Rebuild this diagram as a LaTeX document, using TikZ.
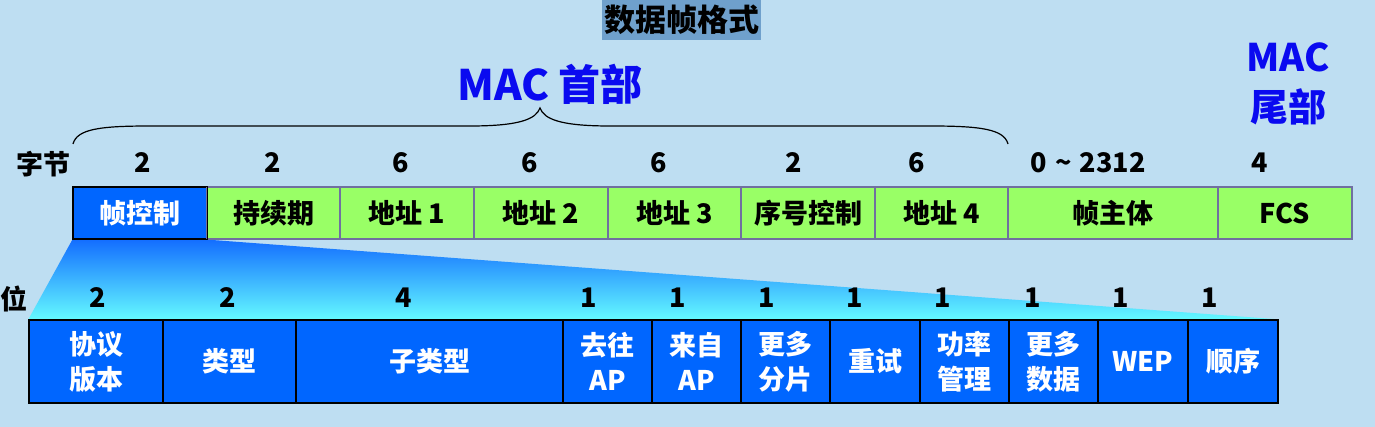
\documentclass[tikz,border=0pt]{standalone}
\usepackage{fontspec}
\setmainfont{Noto Sans CJK SC}
\usetikzlibrary{calc}
\definecolor{bgc}{RGB}{190,222,242}
\definecolor{titlebg}{RGB}{111,160,204}
\definecolor{gfill}{RGB}{153,255,102}
\definecolor{gedge}{RGB}{112,112,160}
\definecolor{bfill}{RGB}{0,102,255}
\definecolor{macblue}{RGB}{10,10,240}
\definecolor{shtop}{RGB}{20,110,255}
\definecolor{shmid}{RGB}{75,215,255}
\definecolor{shbot}{RGB}{100,250,255}
\pgfdeclarelayer{bg}
\pgfsetlayers{bg,main}
\tikzset{
  gbox/.style={draw=gedge, line width=1.3pt, fill=gfill, minimum height=52pt, inner sep=0pt, font=\fontsize{27}{30}\selectfont\bfseries, text=black},
  bbox/.style={draw=black, line width=1.3pt, fill=bfill, inner sep=0pt, text=white, align=center, font=\fontsize{27}{35}\selectfont\bfseries},
  num/.style={inner sep=0pt, font=\fontsize{27}{30}\selectfont\bfseries, text=black},
  mac/.style={inner sep=0pt, text=macblue, align=center, font=\bfseries},
}
\begin{document}
\begin{tikzpicture}[x=1pt,y=-1pt]
\begin{pgfonlayer}{bg}
\fill[bgc] (0,0) rectangle (1375,427);
\end{pgfonlayer}
\useasboundingbox (0,0) rectangle (1375,427);
% title
\node[fill=titlebg, minimum width=159pt, minimum height=40pt, inner sep=0pt, font=\fontsize{31}{32}\selectfont\bfseries] (title) at (681.5,20) {数据帧格式};
% MAC header labels
\node[mac, font=\fontsize{42}{44}\selectfont\bfseries] (hdr) at (550,84) {MAC 首部};
\node[mac, font=\fontsize{38}{50}\selectfont\bfseries] (trl) at (1288,84) {MAC\\尾部};
% byte row
\node[gbox, fill=bfill, draw=black, text=white, minimum width=134pt] (f1) at (140,213) {帧控制};
\node[gbox, minimum width=133pt] (f2) at (273.5,213) {持续期};
\node[gbox, minimum width=134pt] (f3) at (407,213) {地址 1};
\node[gbox, minimum width=134pt] (f4) at (541,213) {地址 2};
\node[gbox, minimum width=133pt] (f5) at (674.5,213) {地址 3};
\node[gbox, minimum width=134pt] (f6) at (808,213) {序号控制};
\node[gbox, minimum width=133pt] (f7) at (941.5,213) {地址 4};
\node[gbox, minimum width=210pt] (f8) at (1113,213) {帧主体};
\node[gbox, minimum width=134pt] (f9) at (1285,213) {FCS};
\draw[line width=1.3pt, draw=black] (f1.south west) rectangle (f1.north east);
% brace
\coordinate (bl) at (73,144);
\coordinate (br) at (1008,144);
\draw[line width=1.2pt] (bl) .. controls (77,129) and (100,126) .. (150,126) -- (470,126) .. controls (520,126) and (536,119) .. (540,108) .. controls (544,119) and (560,126) .. (610,126) -- (930,126) .. controls (980,126) and (1004,129) .. (br);
% byte numbers
\node[num] (zj) at (43.5,164) {字节};
\node[num] (n1) at (143,163) {2};
\node[num] (n2) at (273,163) {2};
\node[num] (n3) at (401,163) {6};
\node[num] (n4) at (530,163) {6};
\node[num] (n5) at (659,163) {6};
\node[num] (n6) at (794,163) {2};
\node[num] (n7) at (917,163) {6};
\node[num] (n8) at (1088,163) {0\hspace{0.3em}\textasciitilde\hspace{0.3em}2312};
\node[num] (n9) at (1260,163) {4};
% bit row
\node[bbox, minimum width=134pt, minimum height=83pt] (b1) at (96,361.5) {协议\\版本};
\node[bbox, minimum width=133pt, minimum height=83pt] (b2) at (229.5,361.5) {类型};
\node[bbox, minimum width=267pt, minimum height=83pt] (b3) at (429.5,361.5) {子类型};
\node[bbox, minimum width=89pt, minimum height=83pt] (b4) at (607.5,361.5) {去往\\AP};
\node[bbox, minimum width=89pt, minimum height=83pt] (b5) at (696.5,361.5) {来自\\AP};
\node[bbox, minimum width=89pt, minimum height=83pt] (b6) at (785.5,361.5) {更多\\分片};
\node[bbox, minimum width=90pt, minimum height=83pt] (b7) at (875,361.5) {重试};
\node[bbox, minimum width=89pt, minimum height=83pt] (b8) at (964.5,361.5) {功率\\管理};
\node[bbox, minimum width=89pt, minimum height=83pt] (b9) at (1053.5,361.5) {更多\\数据};
\node[bbox, minimum width=90pt, minimum height=83pt] (b10) at (1143,361.5) {WEP};
\node[bbox, minimum width=90pt, minimum height=83pt] (b11) at (1233,361.5) {顺序};
% shaded zoom trapezoid
\begin{pgfonlayer}{bg}
\shade[top color=shtop, middle color=shmid, bottom color=shbot] (f1.south west) -- (f1.south east) -- (b11.north east) -- (b1.north west) -- cycle;
\end{pgfonlayer}
% bit numbers
\node[num] (wei) at (13.5,298.5) {位};
\node[num] (m1) at (98,297.5) {2};
\node[num] (m2) at (228,297.5) {2};
\node[num] (m3) at (404,297.5) {4};
\node[num] (m4) at (589,297.5) {1};
\node[num] (m5) at (678,297.5) {1};
\node[num] (m6) at (767,297.5) {1};
\node[num] (m7) at (855,297.5) {1};
\node[num] (m8) at (943,297.5) {1};
\node[num] (m9) at (1033,297.5) {1};
\node[num] (m10) at (1121,297.5) {1};
\node[num] (m11) at (1210,297.5) {1};
\end{tikzpicture}
\end{document}
